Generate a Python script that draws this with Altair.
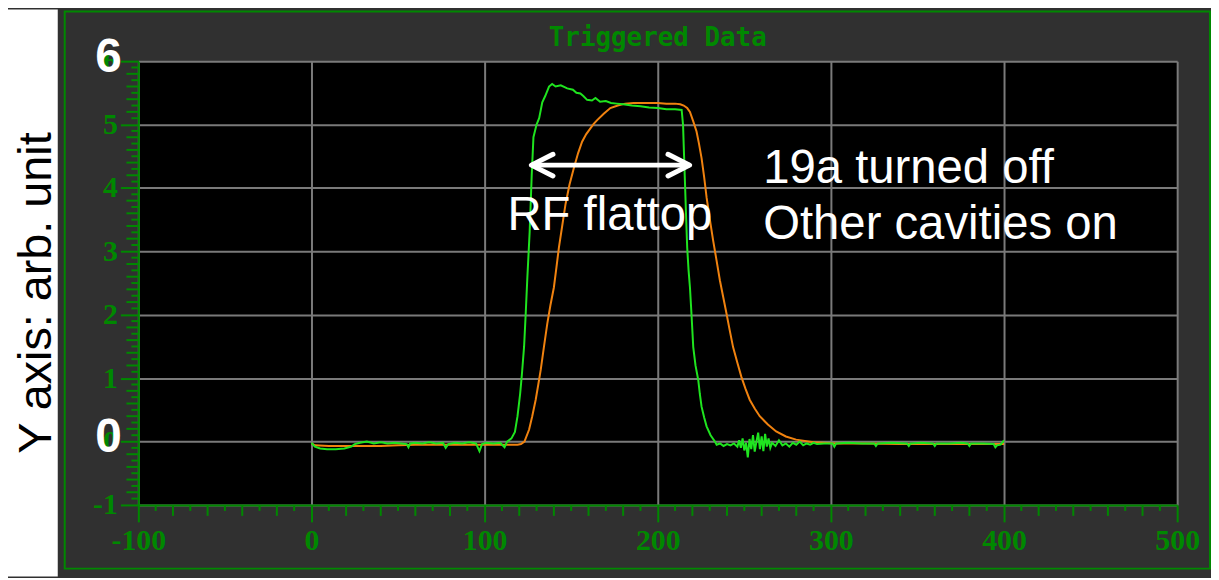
import altair as alt
import pandas as pd

# ---------------- data ----------------
green_x = [0, 1, 2, 5, 9, 14, 19, 23, 25, 28, 32, 36, 40, 44, 48, 52, 55, 56, 57, 60,
           64, 68, 72, 76, 77.5, 79, 83, 87, 91, 95, 97, 98.5, 101, 105, 109, 111.5, 113,
           115.5, 117.5, 119, 120.5, 121.5, 122.8, 123.7, 124.7, 126, 127.2, 128.2, 130, 131.5,
           133.3, 135, 137.2, 139, 141, 144, 147.7, 151, 153, 155.3, 157, 159.2, 162, 164,
           166.7, 170, 173, 176.4, 180, 185, 190, 195, 200, 205, 210, 213.8,
           214.6, 215.2, 215.7, 216.3, 217, 217.8, 218.6, 219.5, 220.5, 221.8, 223.4, 224.3,
           225.3, 226.8, 228.2, 230.5, 233,
           234, 236, 238, 240, 242, 244, 246, 247, 248, 249, 250, 251, 252, 253, 254, 255,
           256, 257, 258, 259, 260, 261, 262, 263, 264, 265, 266, 268, 270, 272, 274, 276,
           278, 280, 282, 284, 286, 288, 290, 292,
           296, 301, 302, 303, 310, 318, 325, 326, 327, 335, 344, 345, 346, 352, 359, 360,
           361, 368, 375, 379, 380, 381, 388, 394, 395, 396, 398, 400]
green_y = [-0.02, -0.05, -0.08, -0.11, -0.12, -0.12, -0.11, -0.08, -0.04, -0.02, 0.0, -0.03,
           -0.01, -0.03, -0.02, -0.03, -0.04, -0.09, -0.03, -0.02, -0.03, -0.01, -0.03, -0.02,
           -0.1, -0.04, -0.02, -0.03, -0.01, -0.03, -0.15, -0.04, -0.02, -0.03, -0.02, -0.09, 0.0,
           0.05, 0.15, 0.4, 0.75, 1.05, 1.5, 2.0, 2.6, 3.3, 4.2, 4.8, 5.0, 5.1,
           5.35, 5.45, 5.6, 5.64, 5.6, 5.62, 5.57, 5.55, 5.5, 5.49, 5.45, 5.39, 5.38, 5.42,
           5.36, 5.37, 5.34, 5.33, 5.32, 5.3, 5.29, 5.27, 5.26, 5.24, 5.24, 5.23,
           5.0, 4.5, 4.1, 3.6, 3.06, 2.7, 2.43, 2.0, 1.49, 1.2, 0.97, 0.75,
           0.55, 0.38, 0.24, 0.1, 0.0,
           -0.05, -0.03, -0.07, -0.04, -0.06, -0.03, -0.08, 0.02, -0.1, 0.05, -0.14, -0.02,
           -0.25, 0.04, -0.12, 0.1, -0.16, 0.0, 0.14, -0.12, 0.08, -0.15, 0.12, -0.08, 0.05,
           -0.1, -0.02, -0.07, 0.02, -0.06, -0.03, -0.08, -0.02, -0.05, 0.0, -0.06, -0.03,
           -0.05, -0.02, -0.04,
           -0.03, -0.03, -0.08, -0.03, -0.02, -0.03, -0.03, -0.07, -0.03, -0.02, -0.03, -0.07,
           -0.03, -0.02, -0.03, -0.07, -0.03, -0.03, -0.02, -0.03, -0.07, -0.03, -0.03, -0.04,
           -0.09, -0.06, -0.05, 0.02]

orange_x = [0, 2, 10, 20, 30, 40, 50, 60, 70, 80, 90, 100, 110, 115, 119,
            121, 123, 125.7, 127.5, 129.5, 131, 132.4, 134.3, 136.2, 138,
            140, 141.5, 142.9, 144.8, 146.7, 149, 151.5, 154, 156.3, 158.7,
            161.1, 163, 165, 168.8, 172.6, 176.9, 181.2, 186, 190, 195,
            200, 205, 210, 213, 215, 217, 218.6, 220.5, 222.4, 223.8,
            225.3, 226.8, 228.2, 230.1, 232, 234, 235.9, 237.8, 239.7, 241.6,
            243.5, 245.9, 248.3, 250.7, 253.1, 256, 258.9, 263.6, 268.4, 274,
            279.9, 290, 303, 320, 340, 360, 380, 400]
orange_y = [-0.03, -0.06, -0.07, -0.07, -0.07, -0.07, -0.06, -0.05, -0.05, -0.05, -0.05, -0.05,
            -0.05, -0.05, -0.05,
            -0.04, 0.0, 0.19, 0.4, 0.66, 0.9, 1.13, 1.5, 1.86, 2.15,
            2.43, 2.75, 3.06, 3.4, 3.74, 4.05, 4.31, 4.55, 4.73, 4.85,
            4.94, 5.01, 5.07, 5.17, 5.26, 5.3, 5.33, 5.34, 5.34, 5.34,
            5.34, 5.33, 5.33, 5.32, 5.3, 5.26, 5.2, 5.05, 4.89, 4.7,
            4.47, 4.17, 3.85, 3.5, 3.17, 2.85, 2.54, 2.28, 2.02, 1.75,
            1.49, 1.25, 1.02, 0.83, 0.66, 0.52, 0.4, 0.27, 0.16, 0.08,
            0.03, -0.01, -0.03, -0.03, -0.04, -0.04, -0.04, -0.04]

assert len(green_x) == len(green_y), (len(green_x), len(green_y))
assert len(orange_x) == len(orange_y), (len(orange_x), len(orange_y))

x_ticks = [-100, 0, 100, 200, 300, 400, 500]
y_ticks = [-1, 0, 1, 2, 3, 4, 5, 6]
x_minor_long = [v for v in range(-100, 501, 20) if v % 100 != 0]
x_minor_short = list(range(-90, 500, 20))
y_minor_long = [k / 10 for k in range(-10, 61) if k % 2 == 0 and k % 10 != 0]
y_minor_short = [k / 10 for k in range(-9, 60, 2)]
big_labels = [6, 0]

arrow_x = [127.0, 218.4]
arrow_y = [4.36, 4.36]
note_text = ["RF flattop", "19a turned off", "Other cavities on"]
note_x = [113.2, 260.9, 260.9]
note_y = [3.34, 4.08, 3.2]
y_title = "Y axis: arb. unit"
chart_title = "Triggered Data"

# ---------------- style ----------------
GREEN = "#008800"
LINE_GREEN = "#1fe41f"
ORANGE = "#f0820f"
MONO = "DejaVu Sans Mono"
SERIF = "Liberation Serif"
SANS = "Liberation Sans"
W, H = 1044, 446

xs = alt.Scale(domain=[-100, 500], nice=False, zero=False)
ys = alt.Scale(domain=[-1, 6], nice=False, zero=False)
axis_common = dict(grid=True, gridColor="#7a7a7a", gridWidth=2, domainColor=GREEN,
                   domainWidth=2, tickColor=GREEN, tickWidth=2, labelColor=GREEN,
                   labelFont=SERIF, labelFontWeight="bold", labelFontSize=30,
                   labelFlush=False, title=None, labelExpr="datum.value + ''")
x_axis = alt.Axis(values=x_ticks, tickSize=17, labelPadding=4, **axis_common)
y_axis = alt.Axis(values=y_ticks, tickSize=18, labelPadding=3, **axis_common)


def X(field):
    return alt.X(field, type="quantitative", scale=xs, axis=x_axis)


def Y(field):
    return alt.Y(field, type="quantitative", scale=ys, axis=y_axis)


one = pd.DataFrame({"k": [0]})
gdf = pd.DataFrame({"x": green_x, "y": green_y})
odf = pd.DataFrame({"x": orange_x, "y": orange_y})

# white strip to the left of the instrument panel, and the panel's green frame
white_strip = alt.Chart(one).mark_rect(color="white").encode(
    x=alt.value(-131), x2=alt.value(-81), y=alt.value(-52), y2=alt.value(518))
frame = alt.Chart(one).mark_rect(filled=False, stroke=GREEN, strokeWidth=2).encode(
    x=alt.value(-74), x2=alt.value(1077), y=alt.value(-50), y2=alt.value(510))

xml = alt.Chart(pd.DataFrame({"v": x_minor_long})).mark_rule(color=GREEN, strokeWidth=2).encode(
    x=X("v"), y=alt.value(H), y2=alt.value(H + 11))
xms = alt.Chart(pd.DataFrame({"v": x_minor_short})).mark_rule(color=GREEN, strokeWidth=2).encode(
    x=X("v"), y=alt.value(H), y2=alt.value(H + 6))
yml = alt.Chart(pd.DataFrame({"v": y_minor_long})).mark_rule(color=GREEN, strokeWidth=2).encode(
    y=Y("v"), x=alt.value(-12), x2=alt.value(0))
yms = alt.Chart(pd.DataFrame({"v": y_minor_short})).mark_rule(color=GREEN, strokeWidth=2).encode(
    y=Y("v"), x=alt.value(-7), x2=alt.value(0))

orange_line = alt.Chart(odf).mark_line(color=ORANGE, strokeWidth=2).encode(x=X("x"), y=Y("y"))
green_line = alt.Chart(gdf).mark_line(color=LINE_GREEN, strokeWidth=2).encode(x=X("x"), y=Y("y"))

adf = pd.DataFrame({"x": arrow_x, "y": arrow_y})
arrow_line = alt.Chart(adf).mark_line(color="white", strokeWidth=5).encode(x=X("x"), y=Y("y"))
head_l = alt.Chart(adf.iloc[[0]]).mark_point(
    shape="M1,-0.5L0,0L1,0.5", filled=False, stroke="white", strokeWidth=5, size=1884,
    strokeCap="round", strokeJoin="round", opacity=1).encode(x=X("x"), y=Y("y"))
head_r = alt.Chart(adf.iloc[[1]]).mark_point(
    shape="M-1,-0.5L0,0L-1,0.5", filled=False, stroke="white", strokeWidth=5, size=1884,
    strokeCap="round", strokeJoin="round", opacity=1).encode(x=X("x"), y=Y("y"))

notes = alt.Chart(pd.DataFrame({"x": note_x, "y": note_y, "t": note_text})).mark_text(
    align="left", baseline="alphabetic", font=SANS, fontSize=47.5, color="white").encode(
    x=X("x"), y=Y("y"), text="t:N")

big = alt.Chart(pd.DataFrame({"v": big_labels})).mark_text(
    align="center", baseline="middle", font=SANS, fontWeight="bold", fontSize=48,
    color="white", dy=-3).encode(y=Y("v"), x=alt.value(-30), text="v:N")

ytitle = alt.Chart(one).mark_text(
    text=y_title, angle=270, align="center", baseline="middle", font=SANS, fontSize=47,
    color="black").encode(x=alt.value(-102), y=alt.value(233))

title = alt.Chart(one).mark_text(
    text=chart_title, align="center", baseline="alphabetic", font=MONO, fontWeight="bold",
    fontSize=26, color=GREEN).encode(x=alt.value(W / 2), y=alt.value(-15))

chart = alt.layer(
    white_strip, frame, xml, xms, yml, yms, orange_line, green_line,
    arrow_line, head_l, head_r, notes, big, ytitle, title
).properties(
    width=W, height=H,
    padding={"left": 131, "top": 52, "right": 34, "bottom": 72},
    autosize=alt.AutoSizeParams(type="none"),
    background="#303030",
).configure_view(fill="black", stroke=None)

chart.save("out.html", embed_options={"renderer": "svg", "actions": False})
